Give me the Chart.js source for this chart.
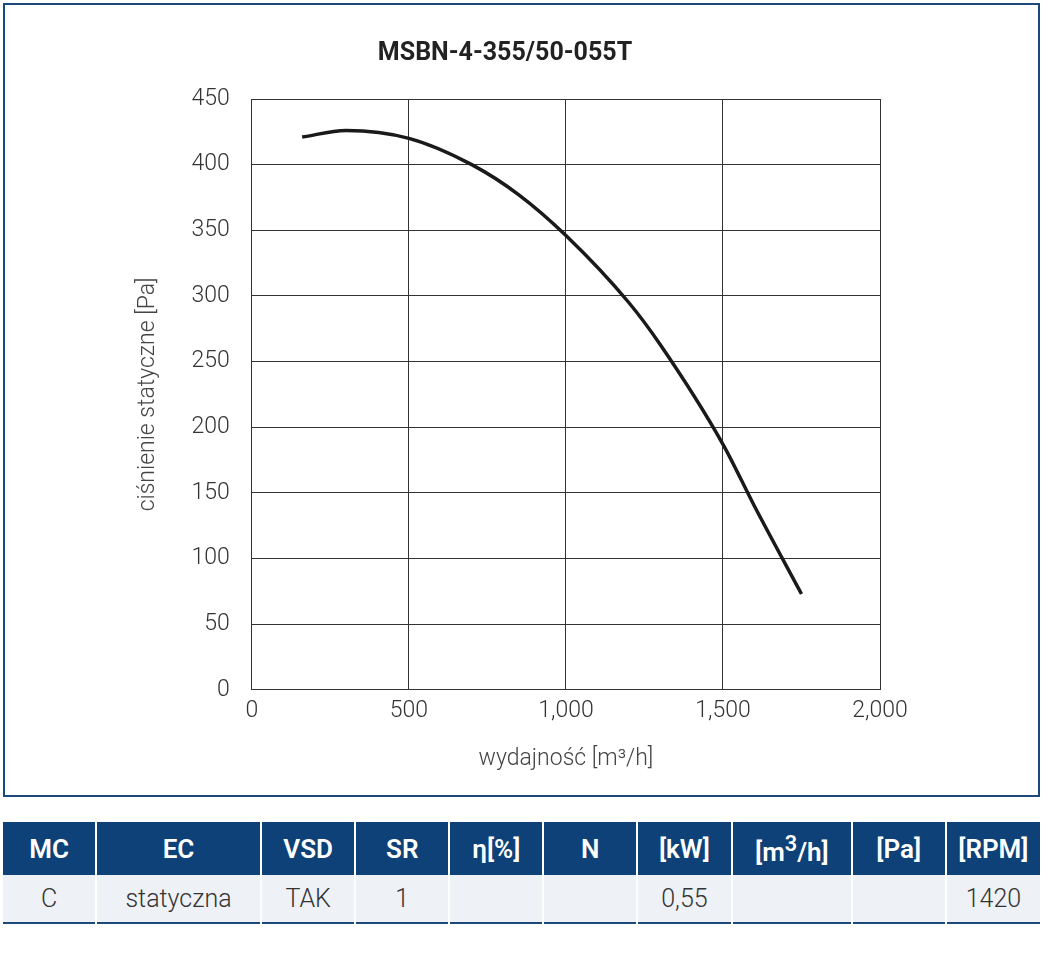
<!DOCTYPE html>
<html><head><meta charset="utf-8">
<script src="https://cdn.jsdelivr.net/npm/chart.js@4"></script>
<style>
body{margin:0;background:#fff;font-family:Roboto,sans-serif;}
#frame{position:absolute;left:3px;top:3px;width:1033px;height:790px;border:2px solid #1b4a7a;}
#wrap{position:absolute;left:0;top:0;width:1033px;height:790px;}
table{position:absolute;left:3px;top:822px;width:1037px;border-collapse:collapse;border-bottom:2px solid #1b4a7a;}
th{background:#0d4177;color:#fff;font-size:26px;font-weight:600;height:53px;border-left:2px solid #fff;padding:0;}
td{background:#eef1f6;color:#333;font-size:25px;font-weight:300;height:47px;text-align:center;border-left:2px solid #fff;padding:0;}
th:first-child,td:first-child{border-left:none;}
</style></head><body>
<div id="frame"><div id="wrap"><canvas id="c"></canvas></div></div>
<table id="t"><tr id="h"></tr><tr id="r"></tr></table>
<script>
const flowX = [160, 300, 500, 700, 850, 1000, 1200, 1300, 1500, 1600, 1750];
const pressY = [421, 426, 420, 400, 377, 346, 295, 263, 187, 140, 73];
const headers = ['MC','EC','VSD','SR','η[%]','N','[kW]','[m<sup>3</sup>/h]','[Pa]','[RPM]'];
const rowVals = ['C','statyczna','TAK','1','','','0,55','','','1420'];
const colWidths = [94,165,94,94,94,94,95,119,94,94];

headers.forEach((h,i)=>{const th=document.createElement('th');th.innerHTML=h;th.style.width=colWidths[i]+'px';document.getElementById('h').appendChild(th);});
rowVals.forEach(v=>{const td=document.createElement('td');td.textContent=v;document.getElementById('r').appendChild(td);});

const tick = {color:'#333', font:{family:'Roboto', size:23, weight:300}};
new Chart(document.getElementById('c'), {
  type:'line',
  data:{datasets:[{data:flowX.map((x,i)=>({x:x,y:pressY[i]})), borderColor:'#1a1a1a', borderWidth:3.5, pointRadius:0, tension:0.4, cubicInterpolationMode:'monotone'}]},
  options:{
    responsive:true, maintainAspectRatio:false, animation:false,
    layout:{padding:{left:125,right:158,top:20,bottom:18}},
    plugins:{legend:{display:false}, tooltip:{enabled:false},
      title:{display:true,text:'MSBN-4-355/50-055T',color:'#222',font:{family:'Roboto',size:25,weight:'bold'},padding:{top:14,bottom:30}}},
    scales:{
      x:{type:'linear',min:0,max:2000,ticks:{...tick,stepSize:500,padding:8},
        grid:{color:'#333',lineWidth:1,drawTicks:false}, border:{color:'#333'},
        title:{display:true,text:'wydajność [m³/h]',color:'#444',font:{family:'Roboto',size:23,weight:300},padding:{top:12}}},
      y:{min:0,max:450,ticks:{...tick,stepSize:50,padding:22},
        grid:{color:'#333',lineWidth:1,drawTicks:false}, border:{color:'#333'},
        title:{display:true,text:'ciśnienie statyczne [Pa]',color:'#444',font:{family:'Roboto',size:23,weight:300},padding:{bottom:8}}}
    }
  }
});
</script></body></html>
